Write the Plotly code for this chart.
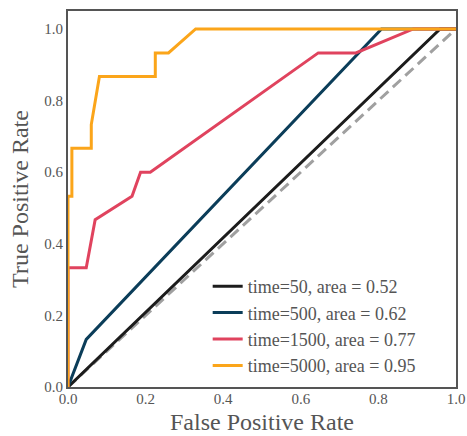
import plotly.graph_objects as go

# ROC curves at four training times
fpr_50 = [0.0, 0.959, 1.0]
tpr_50 = [0.0, 1.0, 1.0]

fpr_500 = [0.0, 0.047, 0.808, 1.0]
tpr_500 = [0.0, 0.133, 1.0, 1.0]

fpr_1500 = [0.0, 0.0, 0.0, 0.047, 0.070, 0.165, 0.187, 0.212, 0.645, 0.742, 0.890, 1.0]
tpr_1500 = [0.0, 0.200, 0.333, 0.333, 0.467, 0.533, 0.600, 0.600, 0.933, 0.933, 1.0, 1.0]

fpr_5000 = [0.0, 0.0, 0.010, 0.010, 0.060, 0.060, 0.081, 0.225, 0.225, 0.259, 0.329, 1.0]
tpr_5000 = [0.0, 0.533, 0.533, 0.667, 0.667, 0.733, 0.867, 0.867, 0.933, 0.933, 1.0, 1.0]

labels = [
    "time=50, area = 0.52",
    "time=500, area = 0.62",
    "time=1500, area = 0.77",
    "time=5000, area = 0.95",
]
colors = ["#1c1c1c", "#0b3d59", "#e0435e", "#fba51a"]
curves = [(fpr_50, tpr_50), (fpr_500, tpr_500), (fpr_1500, tpr_1500), (fpr_5000, tpr_5000)]

tick_vals = [0.0, 0.2, 0.4, 0.6, 0.8, 1.0]
tick_text = ["0.0", "0.2", "0.4", "0.6", "0.8", "1.0"]

x_title = "False Positive Rate"
y_title = "True Positive Rate"

FONT = "Liberation Serif"
GREY = "#555555"

fig = go.Figure()

# chance diagonal
fig.add_trace(go.Scatter(
    x=[0, 1], y=[0, 1], mode="lines",
    line=dict(color="#a0a0a0", width=3, dash="11px,6px"),
    showlegend=False, hoverinfo="skip",
))

for (fx, ty), lab, col in zip(curves, labels, colors):
    fig.add_trace(go.Scatter(
        x=fx, y=ty, mode="lines", name=lab,
        line=dict(color=col, width=3),
    ))

axis_common = dict(
    showgrid=False, zeroline=False, automargin=False,
    showline=True, linecolor=GREY, linewidth=2, mirror=True,
    ticks="", tickvals=tick_vals, ticktext=tick_text,
    tickfont=dict(family=FONT, size=15, color=GREY),
)

fig.update_layout(
    width=467, height=436,
    margin=dict(l=68, r=11, t=11, b=49),
    paper_bgcolor="white", plot_bgcolor="white",
    font=dict(family=FONT, color=GREY),
    xaxis=dict(range=[0, 1], ticklabelstandoff=-3, **axis_common),
    yaxis=dict(range=[0, 1.05], **axis_common),
    legend=dict(
        x=0.36, y=0.008, xanchor="left", yanchor="bottom",
        bgcolor="rgba(255,255,255,0)", borderwidth=0,
        font=dict(family=FONT, size=18, color=GREY),
        traceorder="normal",
    ),
)

# axis titles placed as paper-anchored annotations
title_font = dict(family=FONT, size=24, color=GREY)
fig.add_annotation(text=x_title, xref="paper", yref="paper", x=0.5, y=-0.1290,
                   xanchor="center", yanchor="bottom", borderpad=0,
                   showarrow=False, font=title_font)
fig.add_annotation(text=y_title, xref="paper", yref="paper", x=-0.124, y=0.5,
                   xanchor="center", yanchor="middle", textangle=-90,
                   showarrow=False, font=title_font)

fig.write_html("out.html")
